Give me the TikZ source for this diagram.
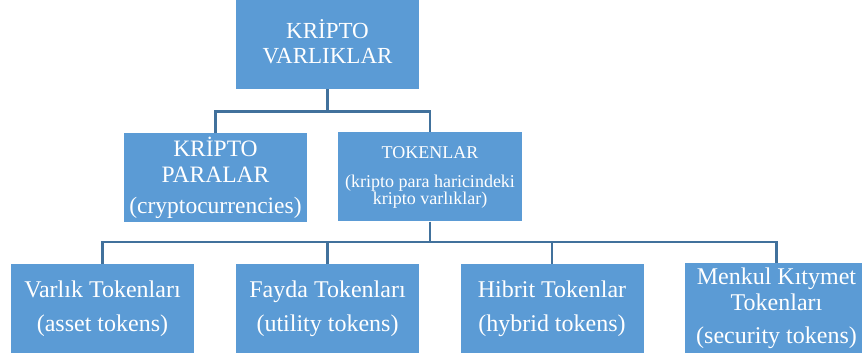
\documentclass[tikz,border=0pt]{standalone}
\usepackage{fontspec}
\setmainfont{Liberation Serif}
\definecolor{boxblue}{HTML}{5B9BD5}
\definecolor{lineblue}{HTML}{41719C}
\tikzset{
  box/.style={fill=boxblue, draw=none, text=white, align=center, inner sep=0pt,
    minimum width=183pt, minimum height=89pt},
  conn/.style={draw=lineblue, line width=2.6pt},
  bigfont/.style={font={\fontsize{23}{25}\selectfont}},
  midfont/.style={font={\fontsize{23.5}{25.7}\selectfont}},
  smallfont/.style={font={\fontsize{18}{17}\selectfont}},
  botfont/.style={font={\fontsize{24}{26}\selectfont}}
}
\begin{document}
\begin{tikzpicture}[x=1pt,y=-1pt]
\useasboundingbox (0,0) rectangle (862,363);
\clip (0,0) rectangle (862,363);
\fill[white] (0,0) rectangle (862,363);
% top
\node[box,bigfont] (top) at (327.5,44.5) {KRİPTO\\VARLIKLAR\rule[-6pt]{0pt}{6pt}};
% second level
\node[box,midfont] (kp) at (215.5,177.5) {KRİPTO\\PARALAR\\[5.3pt](cryptocurrencies)};
\node[box,smallfont, minimum width=184pt] (tk) at (430,177) {TOKENLAR\\[12pt](kripto para haricindeki\\kripto varlıklar)};
% bottom
\node[box,botfont] (vt) at (102.5,308.5) {Varlık Tokenları\\[8pt](asset tokens)\rule[-3pt]{0pt}{3pt}};
\node[box,botfont] (fy) at (327.5,308.5) {Fayda Tokenları\\[8pt](utility tokens)\rule[-3pt]{0pt}{3pt}};
\node[box,botfont] (hb) at (552,308.5) {Hibrit Tokenlar\\[8pt](hybrid tokens)\rule[-3pt]{0pt}{3pt}};
\node[box,botfont, minimum height=90pt] (mk) at (776.5,308) {Menkul Kıtymet\\Tokenları\\[7pt](security tokens)};
% connectors
\coordinate (j1) at (327.5,111.7);
\coordinate (j2) at (430,242);
\draw[conn] (top.south) -- (j1);
\draw[conn] (kp.north) |- (j1) -| (tk.north);
\draw[conn] (tk.south) -- (j2);
\draw[conn] (vt.north) |- (j2) -| (mk.north);
\draw[conn] (fy.north) |- (j2);
\draw[conn] (hb.north) |- (j2);
\end{tikzpicture}
\end{document}
